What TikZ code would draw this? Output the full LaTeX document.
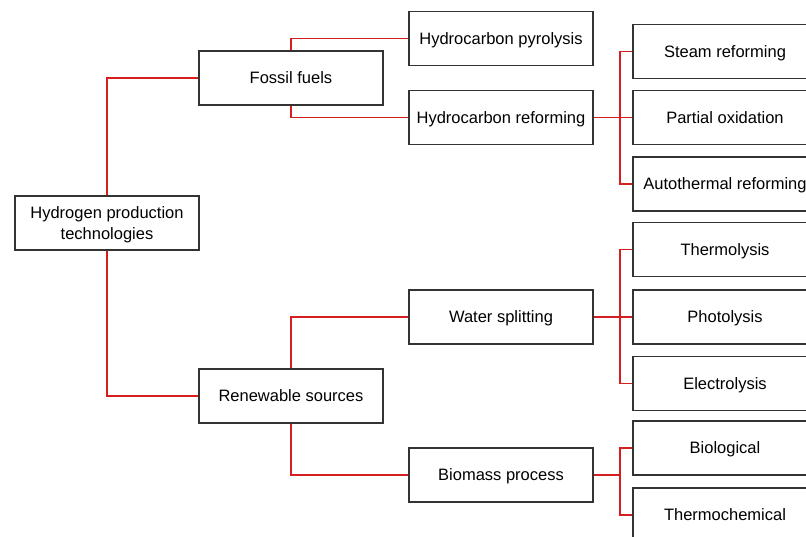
\documentclass[tikz,border=0pt]{standalone}
\usepackage{fontspec}
\setmainfont{Liberation Sans}
\begin{document}
\begin{tikzpicture}[x=1pt,y=-1pt,
  box/.style={draw=black!80, line width=1.3pt, fill=white, minimum width=184pt, minimum height=54pt, inner sep=0pt, align=center, text depth=0.5pt, font=\fontsize{16.5}{21}\selectfont},
  link/.style={draw={rgb,255:red,215;green,30;blue,30}, line width=1.1pt}]
\clip (0,0) rectangle (806,536);
\fill[white] (0,0) rectangle (806,536);
% nodes
\node[box] (root) at (107,223) {Hydrogen production\\technologies};
\node[box] (fossil) at (291,78) {Fossil fuels};
\node[box] (renew) at (291,396) {Renewable sources};
\node[box] (pyro) at (501,38.5) {Hydrocarbon pyrolysis};
\node[box] (href) at (501,117.5) {Hydrocarbon reforming};
\node[box] (water) at (501,317) {Water splitting};
\node[box] (bio) at (501,475) {Biomass process};
\node[box] (steam) at (725,51.5) {Steam reforming};
\node[box] (partial) at (725,117.5) {Partial oxidation};
\node[box] (auto) at (725,184) {Autothermal reforming};
\node[box] (thermo) at (725,249.5) {Thermolysis};
\node[box] (photo) at (725,317) {Photolysis};
\node[box] (electro) at (725,383.5) {Electrolysis};
\node[box] (biol) at (725,448) {Biological};
\node[box] (tchem) at (725,515) {Thermochemical};
% junctions
\coordinate (j1) at (620,117.5);
\coordinate (j2) at (620,317);
\coordinate (j3) at (620,475);
% connectors
\draw[link] (root.north) |- (fossil.west);
\draw[link] (root.south) |- (renew.west);
\draw[link] (fossil.north) |- (pyro.west);
\draw[link] (fossil.south) |- (href.west);
\draw[link] (renew.north) |- (water.west);
\draw[link] (renew.south) |- (bio.west);
\draw[link] (href.east) -- (j1) -- (partial.west);
\draw[link] (j1) |- (steam.west);
\draw[link] (j1) |- (auto.west);
\draw[link] (water.east) -- (j2) -- (photo.west);
\draw[link] (j2) |- (thermo.west);
\draw[link] (j2) |- (electro.west);
\draw[link] (bio.east) -- (j3);
\draw[link] (j3) |- (biol.west);
\draw[link] (j3) |- (tchem.west);
\end{tikzpicture}
\end{document}
